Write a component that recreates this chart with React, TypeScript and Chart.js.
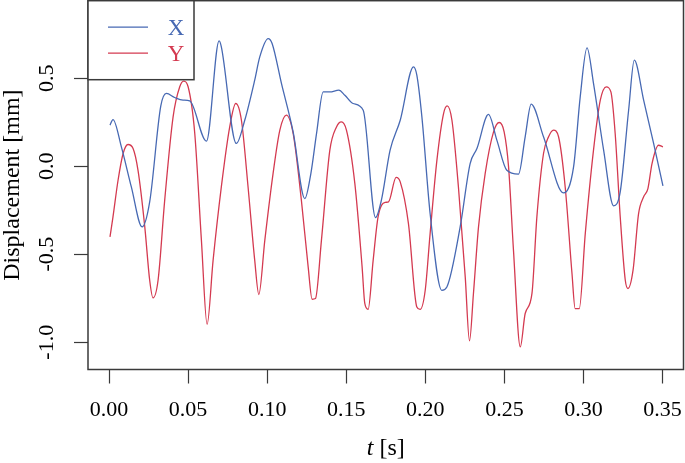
import React, { useEffect, useRef } from "react";
import { Chart, registerables } from "chart.js";

Chart.register(...registerables);

// ---- data ----
const tickTimes = [0, 0.05, 0.1, 0.15, 0.2, 0.25, 0.3, 0.35];
const tickDisp = [-1.0, -0.5, 0.0, 0.5];

const xTime = [
  0.0006, 0.0025, 0.0078, 0.0141, 0.0209, 0.0257, 0.0327, 0.0363, 0.0415, 0.0468,
  0.051, 0.0616, 0.0696, 0.071, 0.0805, 0.0858, 0.0921, 0.0953, 0.1006, 0.1031,
  0.109, 0.1164, 0.1238, 0.1276, 0.1312, 0.1354, 0.1396, 0.1453, 0.1491, 0.1543,
  0.1607, 0.1685, 0.1722, 0.1777, 0.1841, 0.1925, 0.1946, 0.1978, 0.203, 0.2104,
  0.2136, 0.222, 0.2283, 0.2326, 0.2399, 0.2452, 0.2515, 0.2589, 0.2631, 0.2669,
  0.2747, 0.2874, 0.2937, 0.2979, 0.3022, 0.3063, 0.3127, 0.319, 0.3232, 0.3285,
  0.3321, 0.338, 0.3443, 0.3502,
];
const xDisp = [
  0.233, 0.265, 0.11, -0.118, -0.345, -0.203, 0.341, 0.413, 0.39, 0.375,
  0.371, 0.142, 0.712, 0.678, 0.129, 0.261, 0.489, 0.621, 0.725, 0.697,
  0.47, 0.195, -0.184, -0.042, 0.186, 0.422, 0.422, 0.432, 0.403, 0.356,
  0.318, -0.292, -0.193, 0.091, 0.261, 0.564, 0.517, 0.28, -0.269, -0.705,
  -0.686, -0.345, 0.015, 0.1, 0.294, 0.148, -0.023, -0.045, 0.167, 0.352,
  0.167, -0.152, -0.004, 0.394, 0.672, 0.47, 0.091, -0.225, -0.146, 0.318,
  0.602, 0.375, 0.129, -0.112,
];

const yTime = [
  0.0006, 0.0025, 0.0057, 0.0089, 0.012, 0.0152, 0.0183, 0.0226, 0.0257, 0.0278,
  0.031, 0.0352, 0.0405, 0.0447, 0.0472, 0.05, 0.0542, 0.0584, 0.062, 0.0658,
  0.071, 0.0763, 0.0801, 0.0837, 0.0879, 0.0921, 0.0947, 0.0985, 0.1037, 0.108,
  0.1121, 0.1164, 0.1216, 0.1259, 0.1284, 0.1305, 0.1343, 0.1396, 0.1438, 0.1469,
  0.1501, 0.1554, 0.16, 0.1617, 0.1638, 0.167, 0.1701, 0.1746, 0.1767, 0.1815,
  0.1841, 0.1893, 0.1946, 0.1967, 0.1999, 0.203, 0.2073, 0.2115, 0.2138, 0.2168,
  0.2209, 0.2252, 0.2279, 0.2304, 0.2336, 0.2378, 0.2431, 0.2467, 0.2498, 0.2526,
  0.2557, 0.26, 0.2631, 0.2674, 0.2705, 0.2747, 0.2779, 0.281, 0.2842, 0.2884,
  0.2927, 0.2947, 0.2973, 0.3011, 0.3063, 0.3106, 0.3144, 0.3173, 0.32, 0.3232,
  0.3264, 0.3281, 0.3313, 0.3348, 0.338, 0.3407, 0.3433, 0.3474, 0.3502,
];
const yDisp = [
  -0.402, -0.288, -0.08, 0.072, 0.123, 0.1, -0.023, -0.345, -0.648, -0.748,
  -0.648, -0.193, 0.28, 0.451, 0.483, 0.451, 0.186, -0.42, -0.898, -0.534,
  -0.118, 0.223, 0.356, 0.261, -0.118, -0.534, -0.729, -0.42, -0.042, 0.205,
  0.29, 0.186, -0.193, -0.572, -0.756, -0.752, -0.42, 0.091, 0.223, 0.252,
  0.205, -0.098, -0.572, -0.78, -0.814, -0.534, -0.288, -0.206, -0.203, -0.064,
  -0.089, -0.326, -0.8, -0.814, -0.705, -0.383, 0.034, 0.299, 0.343, 0.261,
  -0.118, -0.629, -0.992, -0.723, -0.345, -0.042, 0.195, 0.248, 0.195, -0.004,
  -0.477, -1.027, -0.837, -0.723, -0.288, 0.072, 0.167, 0.205, 0.167, -0.118,
  -0.61, -0.809, -0.809, -0.383, 0.091, 0.375, 0.451, 0.422, 0.186, -0.288,
  -0.648, -0.695, -0.591, -0.269, -0.174, -0.127, 0.015, 0.119, 0.11,
];

const seriesNames = ["X", "Y"];
const xLabelItalic = "t";
const xLabelRest = " [s]";
const yLabel = "Displacement [mm]";

// ---- style ----
const FONT = "'Liberation Serif', 'Times New Roman', serif";
const BLUE = "#4769b3";
const RED = "#d43a50";
const FRAME = "#3a3a3a";

const framePlugin = {
  id: "frameLegend",
  afterDatasetsDraw(chart: any) {
    const { ctx, chartArea: a } = chart;
    ctx.save();
    // box around the plot
    ctx.strokeStyle = FRAME;
    ctx.lineWidth = 1.5;
    ctx.strokeRect(a.left, a.top, a.right - a.left, a.bottom - a.top);

    // legend box (top-left inside the plot)
    const lx = a.left;
    const ly = a.top;
    const lw = 106;
    const lh = 79;
    ctx.fillStyle = "#ffffff";
    ctx.fillRect(lx, ly, lw, lh);
    ctx.strokeRect(lx, ly, lw, lh);
    chart.data.datasets.forEach((ds: any, i: number) => {
      const yy = ly + 26.5 + i * 26;
      ctx.strokeStyle = ds.borderColor;
      ctx.lineWidth = 1.2;
      ctx.beginPath();
      ctx.moveTo(lx + 20, yy);
      ctx.lineTo(lx + 60, yy);
      ctx.stroke();
      ctx.fillStyle = ds.borderColor;
      ctx.font = `23px ${FONT}`;
      ctx.textAlign = "center";
      ctx.textBaseline = "alphabetic";
      ctx.fillText(ds.label, lx + 88, yy + 8);
    });

    // x axis title with italic t
    ctx.fillStyle = "#000";
    ctx.textBaseline = "alphabetic";
    ctx.textAlign = "left";
    ctx.font = `italic 24px ${FONT}`;
    const w1 = ctx.measureText(xLabelItalic).width;
    ctx.font = `24px ${FONT}`;
    const w2 = ctx.measureText(xLabelRest).width;
    const cx = (a.left + a.right) / 2;
    const x0 = cx - (w1 + w2) / 2;
    ctx.font = `italic 24px ${FONT}`;
    ctx.fillText(xLabelItalic, x0, 455);
    ctx.font = `24px ${FONT}`;
    ctx.fillText(xLabelRest, x0 + w1, 455);
    ctx.restore();
  },
};

const zeroPadding = (scale: any) => {
  scale.paddingTop = 0;
  scale.paddingBottom = 0;
  scale.paddingLeft = 0;
  scale.paddingRight = 0;
};

export default function App() {
  const ref = useRef<HTMLCanvasElement | null>(null);

  useEffect(() => {
    document.body.style.margin = "0";
    document.body.style.overflow = "hidden";
    const canvas = ref.current;
    if (!canvas) return;

    const chart = new Chart(canvas, {
      type: "line",
      data: {
        datasets: [
          {
            label: seriesNames[0],
            data: xTime.map((t, i) => ({ x: t, y: xDisp[i] })),
            borderColor: BLUE,
            borderWidth: 1.3,
            pointRadius: 0,
            cubicInterpolationMode: "monotone",
            fill: false,
          },
          {
            label: seriesNames[1],
            data: yTime.map((t, i) => ({ x: t, y: yDisp[i] })),
            borderColor: RED,
            borderWidth: 1.3,
            pointRadius: 0,
            cubicInterpolationMode: "monotone",
            fill: false,
          },
        ],
      },
      options: {
        responsive: false,
        animation: false,
        devicePixelRatio: 1,
        layout: { padding: { top: 0.7, right: 1.5, left: 0, bottom: 0 } },
        plugins: {
          legend: { display: false },
          tooltip: { enabled: false },
        },
        scales: {
          x: {
            type: "linear",
            min: -0.0133,
            max: 0.3632,
            border: { display: false },
            grid: {
              drawOnChartArea: false,
              drawTicks: true,
              tickLength: 14,
              tickColor: FRAME,
              tickWidth: 1.2,
            },
            afterBuildTicks: (scale: any) => {
              scale.ticks = tickTimes.map((v) => ({ value: v }));
            },
            afterFit: (scale: any) => {
              scale.height = 93.5;
              zeroPadding(scale);
            },
            ticks: {
              autoSkip: false,
              maxRotation: 0,
              minRotation: 0,
              padding: 14,
              color: "#000",
              font: { family: FONT, size: 22 },
              callback: (v: any) => Number(v).toFixed(2),
            },
            title: { display: false },
          },
          y: {
            type: "linear",
            min: -1.155,
            max: 0.94,
            border: { display: false },
            grid: {
              drawOnChartArea: false,
              drawTicks: true,
              tickLength: 14,
              tickColor: FRAME,
              tickWidth: 1.2,
            },
            afterBuildTicks: (scale: any) => {
              scale.ticks = tickDisp.map((v) => ({ value: v }));
            },
            afterFit: (scale: any) => {
              scale.width = 88;
              zeroPadding(scale);
            },
            ticks: {
              autoSkip: false,
              minRotation: 90,
              maxRotation: 90,
              crossAlign: "center",
              padding: 9,
              color: "#000",
              font: { family: FONT, size: 22 },
              callback: (v: any) => Number(v).toFixed(1),
            },
            title: {
              display: true,
              text: yLabel,
              color: "#000",
              font: { family: FONT, size: 24, lineHeight: 1 },
              padding: { top: 1, bottom: 0 },
            },
          },
        },
      },
      plugins: [framePlugin],
    } as any);

    return () => chart.destroy();
  }, []);

  return (
    <canvas
      ref={ref}
      width={685}
      height={463}
      style={{ display: "block", width: 685, height: 463 }}
    />
  );
}
